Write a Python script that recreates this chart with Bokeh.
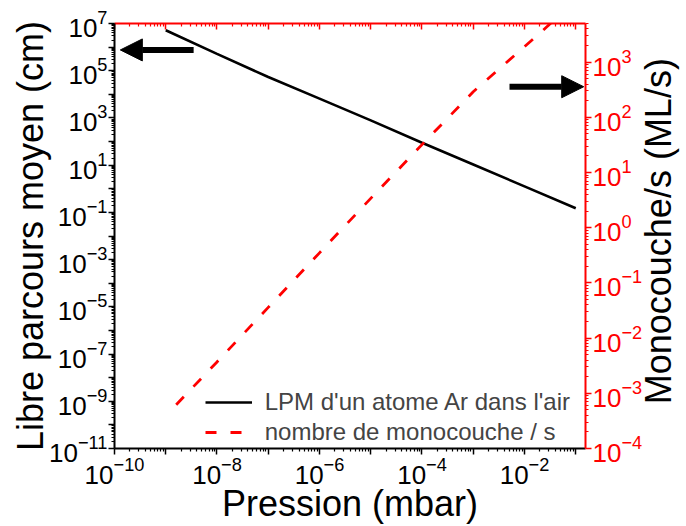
import math
from bokeh.plotting import figure
from bokeh.models import (Range1d, LogScale, LogAxis, FixedTicker, Legend, LegendItem,
                          Arrow, NormalHead, Label)
from bokeh.embed import file_html
from bokeh.resources import INLINE

# ---------------- data ----------------
pressure_lpm = [1e-9, 1e-8, 1e-7, 1e-6, 1e-5, 1e-4, 1e-3, 1e-2, 1e-1]
lpm_cm = [5.2e6, 5.2e5, 5.4e4, 6.6e3, 7.9e2, 89, 10.7, 1.26, 0.15]

pressure_ml = [1.6e-9, 1e-8, 1e-7, 1e-6, 1e-5, 1e-4, 1e-3, 1e-2, 2.1e-2, 1e-1]
ml_per_s = [6.2e-4, 3.7e-3, 3.6e-2, 0.35, 3.4, 32, 290, 1.9e3, 3.5e3, 1.3e4]

legend_labels = ["LPM d'un atome Ar dans l'air", "nombre de monocouche / s"]
x_title = "Pression (mbar)"
y_title = "Libre parcours moyen (cm)"
y2_title = "Monocouche/s (ML/s)"

x_lim = (1e-10, 0.155)
y_lim = (1e-11, 1e7)
y2_lim = (1e-4, 5e3)

x_exps = list(range(-10, 1))
y_exps = list(range(-11, 8))
y2_exps = list(range(-4, 4))

# annotation anchors (left-axis data units)
arrow_left = dict(x0=3.5e-9, x1=1.3e-10, y=7.6e5)
arrow_right = dict(x0=5.1e-3, x1=0.143, y=2.1e4)
y2_title_pos = dict(x=4.1, y=1.6e-2)

FONT = "Liberation Sans"
RED = "#ff0000"


def decades(exps):
    return [float(f"1e{k}") for k in exps]


def minors(exps):
    return [m * float(f"1e{k}") for k in exps for m in range(2, 10)]


x_major = decades(x_exps)
y_major = decades(y_exps)
y2_major = decades(y2_exps)

p = figure(width=686, height=526, x_axis_type="log", y_axis_type="log",
           x_range=Range1d(*x_lim), y_range=Range1d(*y_lim),
           output_backend="svg", toolbar_location=None,
           min_border_left=114, min_border_right=97, min_border_top=23, min_border_bottom=76)
p.outline_line_color = None
p.xgrid.visible = False
p.ygrid.visible = False
p.background_fill_color = "white"
p.border_fill_color = "white"

p.extra_y_ranges = {"right": Range1d(*y2_lim)}
p.extra_y_scales = {"right": LogScale()}


def style_axis(ax, color, tick_in=0, tick_out=6, minor_in=0, minor_out=3):
    ax.axis_line_color = color
    ax.axis_line_width = 2
    ax.major_tick_line_color = color
    ax.minor_tick_line_color = color
    ax.major_tick_line_width = 1.5
    ax.minor_tick_line_width = 1.2
    ax.major_tick_in = tick_in
    ax.major_tick_out = tick_out
    ax.minor_tick_in = minor_in
    ax.minor_tick_out = minor_out
    ax.major_label_text_font = FONT
    ax.major_label_text_font_size = "26px"
    ax.major_label_text_color = color
    ax.axis_label_text_font = FONT
    ax.axis_label_text_font_size = "36px"
    ax.axis_label_text_font_style = "normal"
    ax.axis_label_text_color = "black"


# bottom axis
xa = p.xaxis[0]
xa.ticker = FixedTicker(ticks=x_major, minor_ticks=minors(x_exps))
xa.major_label_overrides = {float(f"1e{k}"): " " for k in x_exps if k % 2 != 0}
style_axis(xa, "black")
xa.axis_label = x_title
xa.major_label_standoff = 2
xa.axis_label_standoff = -7

# left axis
ya = p.yaxis[0]
ya.ticker = FixedTicker(ticks=y_major, minor_ticks=minors(y_exps))
ya.major_label_overrides = {float(f"1e{k}"): " " for k in y_exps if k % 2 == 0}
style_axis(ya, "black")
ya.axis_label = y_title
ya.major_label_standoff = 1
ya.axis_label_standoff = -5

# right axis
ra = LogAxis(y_range_name="right",
             ticker=FixedTicker(ticks=y2_major, minor_ticks=minors(y2_exps)))
style_axis(ra, RED)
ra.major_label_standoff = 1
p.add_layout(ra, "right")

# right axis title (reads bottom-to-top, like the reference); placed in the
# right side panel so that it is not clipped to the plot frame
p.add_layout(Label(x=y2_title_pos["x"], y=y2_title_pos["y"], text=y2_title,
                   angle=math.pi / 2, text_align="center", text_baseline="alphabetic",
                   text_font=FONT, text_font_size="36px", text_color="black"), "right")

# top axis (mirror, no labels)
ta = LogAxis(ticker=FixedTicker(ticks=x_major, minor_ticks=minors(x_exps)))
style_axis(ta, RED, tick_in=6, tick_out=0, minor_in=3, minor_out=0)
ta.major_label_text_font_size = "1px"
ta.major_label_text_alpha = 0
ta.major_label_standoff = 0
p.add_layout(ta, "above")

# data lines
r1 = p.line(pressure_lpm, lpm_cm, line_color="black", line_width=2.6)
r2 = p.line(pressure_ml, ml_per_s, y_range_name="right", line_color=RED,
            line_width=2.8, line_dash="11 14")

legend = Legend(items=[LegendItem(label=legend_labels[0], renderers=[r1]),
                       LegendItem(label=legend_labels[1], renderers=[r2])],
                location=(90.7, 1))
legend.label_text_font = FONT
legend.label_text_font_size = "24px"
legend.glyph_width = 47
legend.glyph_height = 30
legend.label_height = 30
legend.spacing = 0
legend.padding = 0
legend.margin = 0
legend.label_standoff = 13
legend.border_line_color = None
legend.background_fill_alpha = 0
p.add_layout(legend)

for a in (arrow_left, arrow_right):
    p.add_layout(Arrow(end=NormalHead(size=22, fill_color="black", line_color="black"),
                       x_start=a["x0"], y_start=a["y"], x_end=a["x1"], y_end=a["y"],
                       line_color="black", line_width=6))

open("out.html", "w").write(file_html(p, INLINE))
